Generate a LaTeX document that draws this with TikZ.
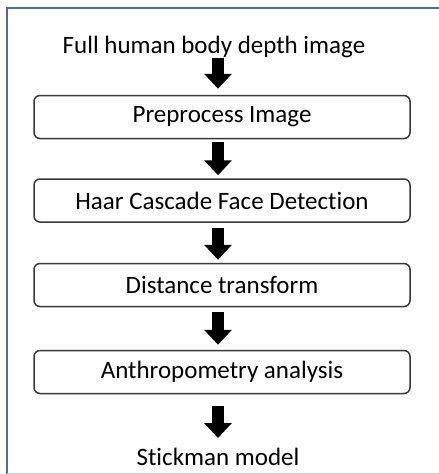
\documentclass[tikz,border=0pt]{standalone}
\usepackage{fontspec}
\setmainfont{Carlito}[Ligatures=NoCommon]
\usetikzlibrary{arrows.meta}
\definecolor{framec}{HTML}{4F6D96}
\definecolor{boxc}{HTML}{383838}
\begin{document}
\begin{tikzpicture}[x=1pt,y=-1pt,
  txt/.style={font=\fontsize{25}{29}\selectfont, text=black, inner sep=0pt},
  stepbox/.style={draw=boxc, line width=1.5pt, rounded corners=6pt, fill=white,
    minimum width=376pt, minimum height=43pt, inner sep=0pt,
    font=\fontsize{25}{29}\selectfont},
  bigarrow/.style={line width=12pt, black, -{Triangle[width=27pt,length=15pt]}}]
\useasboundingbox (0,0) rectangle (439,474);
\draw[framec, line width=1.5pt] (7,474) -- (7,8) -- (440,8);
\draw[gray!40, line width=1pt] (7,473) -- (440,473);
\node[txt, anchor=base] (top) at (214,53) {Full human body depth image};
\node[stepbox] (b1) at (222,117) {Preprocess Image};
\node[stepbox] (b2) at (222,200.5) {Haar Cascade Face Detection};
\node[stepbox] (b3) at (222,285) {Distance transform};
\node[stepbox] (b4) at (222,372) {Anthropometry analysis};
\node[txt, anchor=base] (end) at (218,465) {Stickman model};
\draw[bigarrow] ([xshift=4pt,yshift=-5pt]top.base) -- ([xshift=-4pt,yshift=6pt]b1.north);
\draw[bigarrow] ([xshift=-4pt,yshift=-3pt]b1.south) -- ([xshift=-4pt,yshift=3pt]b2.north);
\draw[bigarrow] ([xshift=-4pt,yshift=-5pt]b2.south) -- ([xshift=-4pt,yshift=3pt]b3.north);
\draw[bigarrow] ([xshift=-4pt,yshift=-5pt]b3.south) -- ([xshift=-4pt,yshift=5pt]b4.north);
\draw[bigarrow] ([xshift=-4pt,yshift=-12pt]b4.south) -- ([yshift=27pt]end.base);
\end{tikzpicture}
\end{document}
